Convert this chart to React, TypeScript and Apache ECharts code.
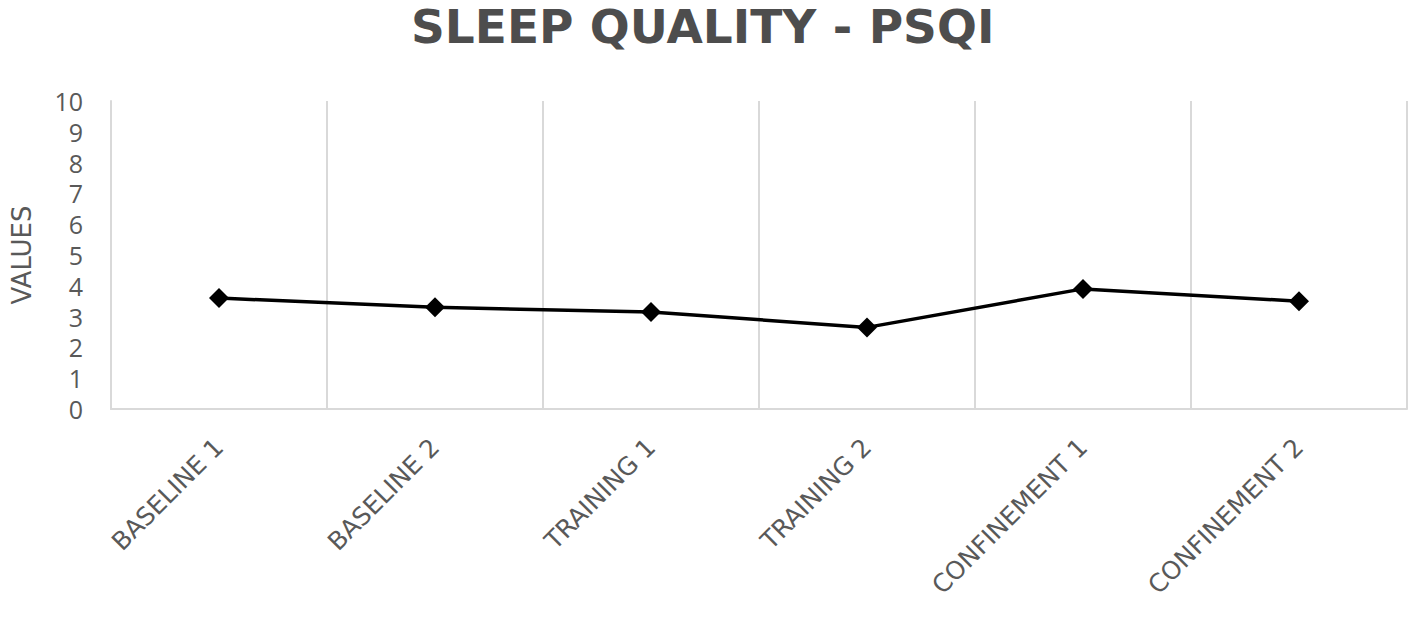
import React, { useEffect, useRef } from "react";
import * as echarts from "echarts";

const categories = ["BASELINE 1", "BASELINE 2", "TRAINING 1", "TRAINING 2", "CONFINEMENT 1", "CONFINEMENT 2"];
const psqiValues = [3.6, 3.3, 3.15, 2.65, 3.9, 3.5];
const yTicks = { min: 0, max: 10, interval: 1 };

export default function App() {
  const ref = useRef<HTMLDivElement>(null);
  useEffect(() => {
    const chart = echarts.init(ref.current!, null, { renderer: "svg" });
    const font = "'Open Sans', 'DejaVu Sans', sans-serif";
    const wide = "'DejaVu Sans', sans-serif";
    chart.setOption({
      animation: false,
      backgroundColor: "#ffffff",
      title: {
        text: "SLEEP QUALITY - PSQI",
        left: 406,
        top: -2,
        textStyle: { fontFamily: wide, fontSize: 47, fontWeight: "bold", color: "#4d4d4d" },
      },
      grid: { left: 111, right: 11, top: 101, bottom: 220, containLabel: false },
      xAxis: {
        type: "category",
        data: categories,
        boundaryGap: true,
        axisLine: { show: true, lineStyle: { color: "#d9d9d9", width: 2 } },
        axisTick: { show: false },
        splitLine: { show: true, lineStyle: { color: "#d9d9d9", width: 2 } },
        axisLabel: {
          rotate: 45,
          fontFamily: wide,
          fontSize: 25,
          color: "#595959",
          margin: 34,
          interval: 0,
        },
      },
      yAxis: {
        type: "value",
        min: yTicks.min,
        max: yTicks.max,
        interval: yTicks.interval,
        name: "VALUES",
        nameLocation: "middle",
        nameGap: 76,
        nameTextStyle: { fontFamily: wide, fontSize: 26, color: "#595959" },
        axisLine: { show: true, lineStyle: { color: "#d9d9d9", width: 2 } },
        axisTick: { show: false },
        splitLine: { show: false },
        axisLabel: { fontFamily: font, fontSize: 25, lineHeight: 27, color: "#595959", margin: 28 },
      },
      series: [
        {
          type: "line",
          data: psqiValues,
          symbol: "diamond",
          symbolSize: 20,
          itemStyle: { color: "#000000" },
          lineStyle: { color: "#000000", width: 3.5 },
        },
      ],
    });
    return () => chart.dispose();
  }, []);
  return <div ref={ref} style={{ position: "fixed", left: 0, top: 0, width: 1418, height: 629 }} />;
}
